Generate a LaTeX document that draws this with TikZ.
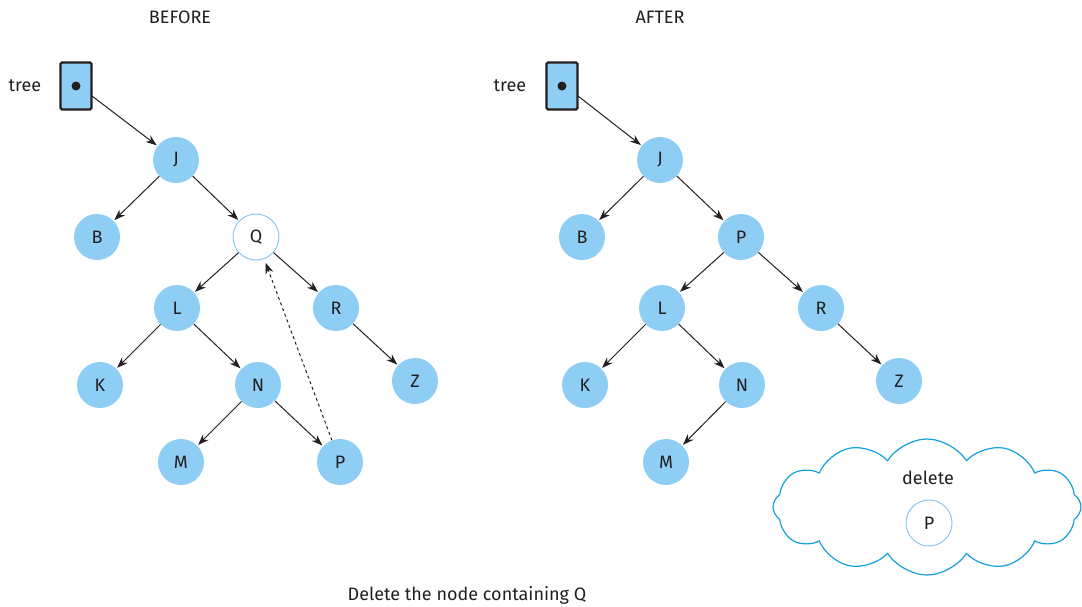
\documentclass[tikz,border=0pt]{standalone}
\usepackage{fontspec}
\setmainfont{Fira Sans}
\usetikzlibrary{arrows.meta,shapes.symbols}
\definecolor{nodeblue}{RGB}{143,206,244}
\definecolor{lineblue}{RGB}{140,200,240}
\definecolor{cloudblue}{RGB}{20,160,220}
\definecolor{ink}{RGB}{35,31,32}
\begin{document}
\begin{tikzpicture}[x=1pt,y=-1pt,
  every node/.style={font=\fontsize{18}{20}\selectfont, text=ink},
  tn/.style={circle, fill=nodeblue, minimum size=46pt, inner sep=0pt},
  hn/.style={circle, draw=lineblue, line width=1pt, fill=white, minimum size=46pt, inner sep=0pt},
  ptr/.style={rectangle, fill=nodeblue, draw=ink, line width=2.2pt, rounded corners=1.5pt, minimum width=31pt, minimum height=47pt, inner sep=0pt},
  lnk/.style={draw=ink, line width=1pt, -{Stealth[length=11pt,width=8pt]}, shorten >=1pt},
  lbl/.style={inner sep=0pt}]
\useasboundingbox (0,0) rectangle (1082,606);
\node[lbl] (bef) at (180,17) {BEFORE};
\node[lbl] (aft) at (660,17) {AFTER};
% BEFORE tree
\node[lbl] (t1) at (25,86) {tree};
\node[ptr] (p1) at (76,86) {};
\fill[ink] (p1.center) circle (4.5pt);
\node[tn] (J1) at (176,160) {J};
\node[tn] (B1) at (97,237) {B};
\node[hn] (Q1) at (256,237) {Q};
\node[tn] (L1) at (177,308) {L};
\node[tn] (R1) at (336,308) {R};
\node[tn] (K1) at (100,385) {K};
\node[tn] (N1) at (258,385) {N};
\node[tn] (Z1) at (415,381) {Z};
\node[tn] (M1) at (181,462) {M};
\node[tn] (P1) at (340,462) {P};
\draw[lnk] (p1.center) ++(16,10) coordinate (s1) -- (J1);
\draw[lnk] (J1) -- (B1);
\draw[lnk] (J1) -- (Q1);
\draw[lnk] (Q1) -- (L1);
\draw[lnk] (Q1) -- (R1);
\draw[lnk] (L1) -- (K1);
\draw[lnk] (L1) -- (N1);
\draw[lnk] (R1) -- (Z1);
\draw[lnk] (N1) -- (M1);
\draw[lnk] (N1) -- (P1);
\draw[lnk, dashed, shorten >=4pt] (P1) -- (Q1);
% AFTER tree
\node[lbl] (t2) at (510,86) {tree};
\node[ptr] (p2) at (562,86) {};
\fill[ink] (p2.center) circle (4.5pt);
\node[tn] (J2) at (660,160) {J};
\node[tn] (B2) at (582,237) {B};
\node[tn] (P2) at (741,237) {P};
\node[tn] (L2) at (662,308) {L};
\node[tn] (R2) at (821,308) {R};
\node[tn] (K2) at (585,385) {K};
\node[tn] (N2) at (742,385) {N};
\node[tn] (Z2) at (899,381) {Z};
\node[tn] (M2) at (666,462) {M};
\draw[lnk] (p2.center) ++(16,10) coordinate (s2) -- (J2);
\draw[lnk] (J2) -- (B2);
\draw[lnk] (J2) -- (P2);
\draw[lnk] (P2) -- (L2);
\draw[lnk] (P2) -- (R2);
\draw[lnk] (L2) -- (K2);
\draw[lnk] (L2) -- (N2);
\draw[lnk] (R2) -- (Z2);
\draw[lnk] (N2) -- (M2);
% cloud
\node[cloud, cloud puffs=12, cloud puff arc=115, draw=cloudblue, line width=1.2pt, minimum width=308pt, minimum height=136pt, aspect=2.2] (cl) at (927,507) {};
\node[lbl] (del) at (928,478) {delete};
\node[hn] (Pd) at (929,523) {P};
\node[lbl] (cap) at (467,595) {Delete the node containing Q};
\end{tikzpicture}
\end{document}
